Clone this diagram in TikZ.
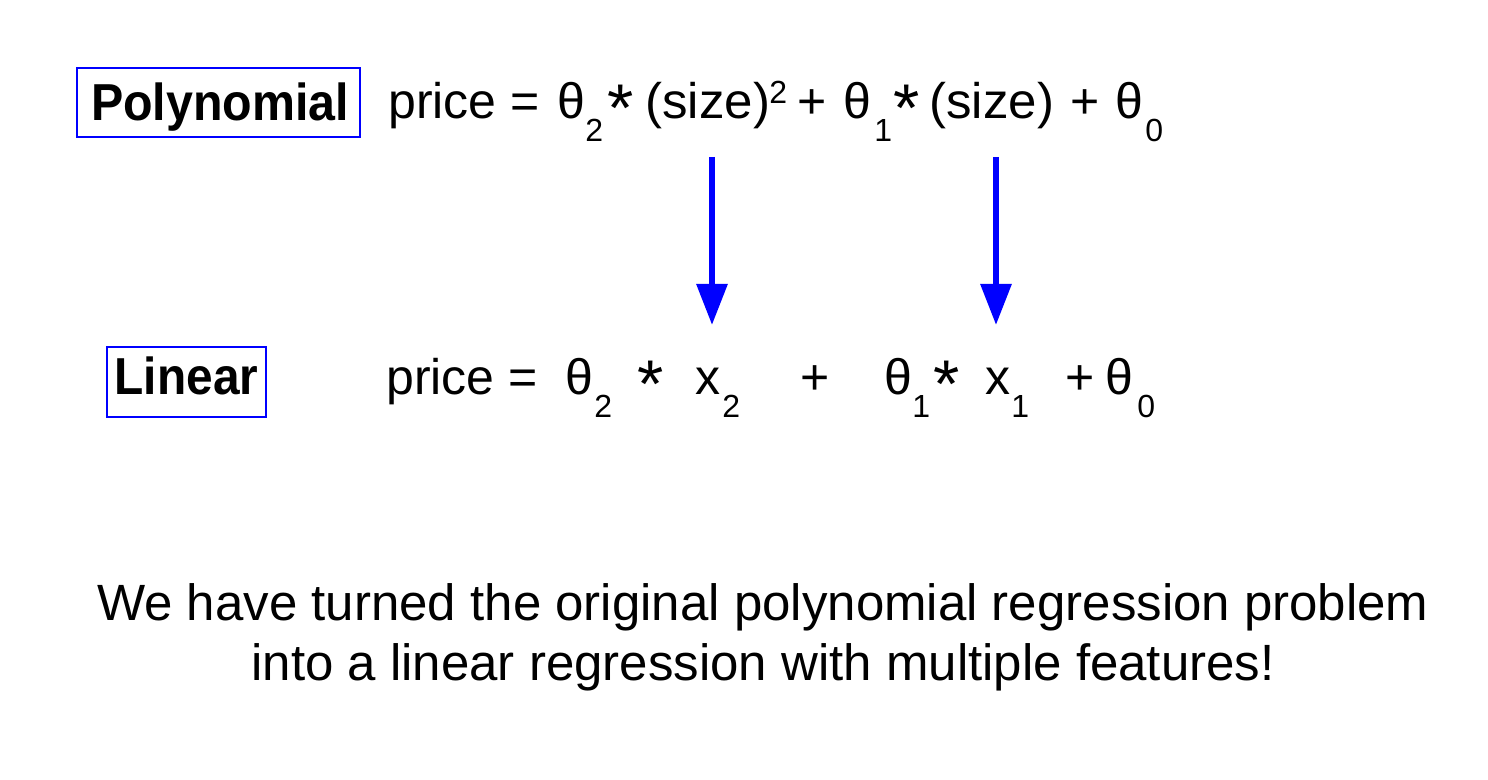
\documentclass[tikz,border=0pt]{standalone}
\usepackage{fontspec}
\setmainfont{Liberation Sans}
\usetikzlibrary{arrows.meta}
\definecolor{pblue}{RGB}{0,0,255}
\newcommand{\bigast}{\scalebox{1.35}{*}}
\begin{document}
\begin{tikzpicture}[x=0.5pt,y=-0.5pt,
  tok/.style={inner sep=0pt,anchor=base west,font=\fontsize{25}{30}\selectfont},
  asttok/.style={inner sep=0pt,anchor=base west,font=\fontsize{25}{30}\selectfont},
  subtok/.style={inner sep=0pt,anchor=base west,font=\fontsize{16}{18}\selectfont},
  lbl/.style={draw=pblue,line width=1pt,inner sep=0pt},
  lbltext/.style={inner sep=0pt,anchor=base,font=\bfseries\fontsize{26}{30}\selectfont},
  bigarrow/.style={draw=pblue,line width=3pt,-{Triangle[width=15pt,length=20.5pt]}},
  note/.style={inner sep=0pt,anchor=base,font=\fontsize{25.5}{30}\selectfont}]
\useasboundingbox (0,0) rectangle (1488,780);
% label boxes
\node[lbl,minimum width=141.5pt,minimum height=34.5pt] (poly) at (218.5,102.5) {};
\node[lbltext] (polyt) at (220,121) {\scalebox{0.93}[1]{Polynomial}};
\node[lbl,minimum width=79.5pt,minimum height=35pt] (lin) at (186.5,382) {};
\node[lbltext] (lint) at (186.5,395) {\scalebox{0.92}[1]{Linear}};
% polynomial equation
\node[tok] (p1) at (388,119) {price =};
\node[tok] (p2) at (557,119) {θ};
\node[subtok] (p3) at (585,142) {2};
\node[asttok] (p4) at (607,132) {\bigast};
\node[tok] (p5) at (645,119) {\scalebox{1.02}[1]{(size)}};
\node[subtok] (p6) at (769,104) {2};
\node[tok] (p7) at (797,119) {+};
\node[tok] (p8) at (843,119) {θ};
\node[subtok] (p9) at (874,142) {1};
\node[asttok] (p10) at (893,132) {\bigast};
\node[tok] (p11) at (929,119) {\scalebox{1.02}[1]{(size)}};
\node[tok] (p12) at (1070,119) {+};
\node[tok] (p13) at (1115,119) {θ};
\node[subtok] (p14) at (1145,142) {0};
% linear equation
\node[tok] (l1) at (386,395) {price =};
\node[tok] (l2) at (565,395) {θ};
\node[subtok] (l3) at (594,417) {2};
\node[asttok] (l4) at (637,408) {\bigast};
\node[tok] (l5) at (695,395) {x};
\node[subtok] (l6) at (722,417) {2};
\node[tok] (l7) at (800,395) {+};
\node[tok] (l8) at (884,395) {θ};
\node[subtok] (l9) at (912,417) {1};
\node[asttok] (l10) at (933,408) {\bigast};
\node[tok] (l11) at (985,395) {x};
\node[subtok] (l12) at (1011,417) {1};
\node[tok] (l13) at (1065,395) {+};
\node[tok] (l14) at (1105,395) {θ};
\node[subtok] (l15) at (1137,417) {0};
% arrows
\coordinate (a1s) at (712,157);
\coordinate (a1e) at (712,325);
\coordinate (a2s) at (996,157);
\coordinate (a2e) at (996,325);
\draw[bigarrow] (a1s) -- (a1e);
\draw[bigarrow] (a2s) -- (a2e);
% note
\node[note] (n1) at (763,620) {We have turned the original polynomial regression problem};
\node[note] (n2) at (763,680) {into a linear regression with multiple features!};
\end{tikzpicture}
\end{document}
